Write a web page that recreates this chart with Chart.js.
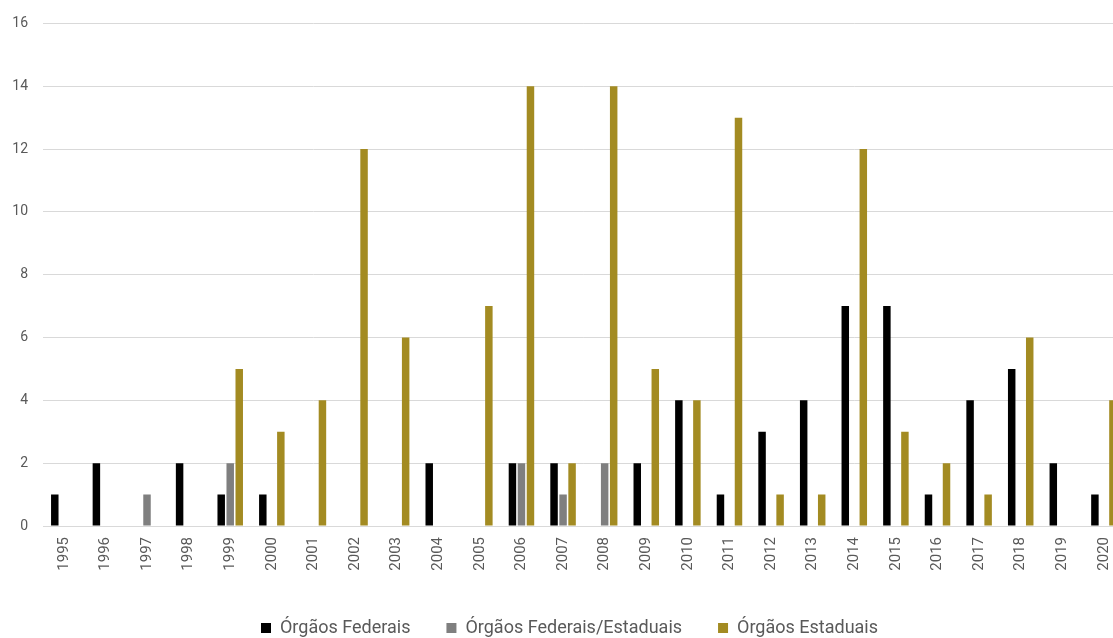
<!DOCTYPE html>
<html>
<head>
<meta charset="utf-8">
<script src="https://cdn.jsdelivr.net/npm/chart.js@4"></script>
<style>
  html, body { margin: 0; padding: 0; background: #ffffff; overflow: hidden; }
  #wrap { position: relative; width: 1133px; height: 638px; }
</style>
</head>
<body>
<div id="wrap"><canvas id="c"></canvas></div>
<script>
const years = ['1995','1996','1997','1998','1999','2000','2001','2002','2003','2004','2005','2006','2007','2008','2009','2010','2011','2012','2013','2014','2015','2016','2017','2018','2019','2020'];
const federais = [1,2,0,2,1,1,0,0,0,2,0,2,2,0,2,4,1,3,4,7,7,1,4,5,2,1];
const federaisEstaduais = [0,0,1,0,2,0,0,0,0,0,0,2,1,2,0,0,0,0,0,0,0,0,0,0,0,0];
const estaduais = [0,0,0,0,5,3,4,12,6,0,7,14,2,14,5,4,13,1,1,12,3,2,1,6,0,4];
const yTicks = [0,2,4,6,8,10,12,14,16];

const FONT = 'Roboto, "Liberation Sans", sans-serif';
const TXT = '#595959';

const legendFix = {
  id: 'legendFix',
  beforeInit(chart) {
    const lg = chart.legend;
    const origFit = lg.fit;
    lg.fit = function () {
      origFit.call(this);
      this.height = 55;
    };
    const origDraw = lg.draw;
    lg.draw = function () {
      const ctx = this.ctx;
      ctx.save();
      ctx.translate(5, 0);
      origDraw.call(this);
      ctx.restore();
    };
  }
};

new Chart(document.getElementById('c'), {
  type: 'bar',
  data: {
    labels: years,
    datasets: [
      { label: 'Órgãos Federais', data: federais, backgroundColor: '#000000' },
      { label: 'Órgãos Federais/Estaduais', data: federaisEstaduais, backgroundColor: '#7f7f7f' },
      { label: 'Órgãos Estaduais', data: estaduais, backgroundColor: '#a38b22' }
    ]
  },
  options: {
    responsive: true,
    maintainAspectRatio: false,
    animation: false,
    categoryPercentage: 0.65,
    barPercentage: 0.83,
    layout: { padding: { top: 22, right: 4, left: 0, bottom: 0 } },
    plugins: {
      legend: {
        position: 'bottom',
        labels: {
          boxWidth: 10, boxHeight: 10, padding: 36,
          color: TXT, font: { family: FONT, size: 18 }
        }
      },
      tooltip: { enabled: false }
    },
    scales: {
      x: {
        grid: { display: false, drawTicks: false },
        border: { display: true, color: '#d9d9d9', width: 1 },
        ticks: {
          color: TXT, font: { family: FONT, size: 15 },
          minRotation: 90, maxRotation: 90, autoSkip: false, padding: 11
        },
        afterFit(scale) { scale.height = 57; }
      },
      y: {
        min: 0, max: 16,
        afterBuildTicks(scale) { scale.ticks = yTicks.map(v => ({ value: v })); },
        grid: { color: '#d9d9d9', lineWidth: 1, drawTicks: false },
        border: { display: false },
        ticks: { color: TXT, font: { family: FONT, size: 14 }, padding: 15 },
        afterFit(scale) { scale.width = 43; }
      }
    }
  },
  plugins: [legendFix]
});
</script>
</body>
</html>
